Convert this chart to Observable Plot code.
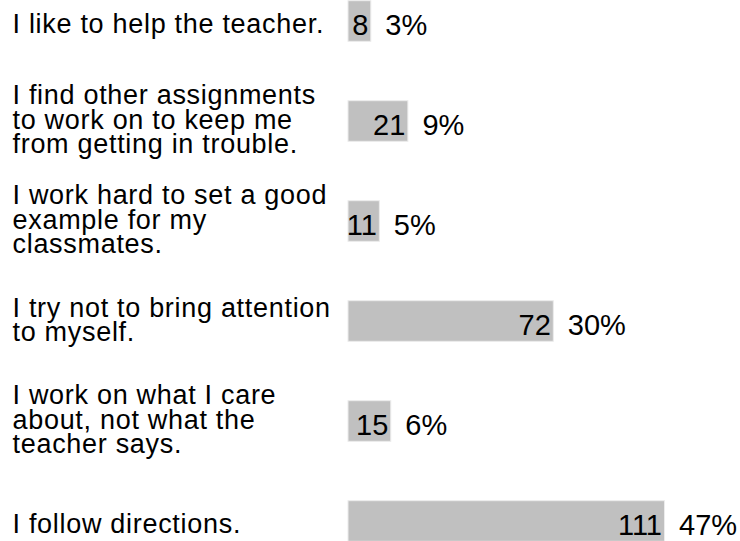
<!DOCTYPE html>
<html><head><meta charset="utf-8">
<script src="https://cdn.jsdelivr.net/npm/d3@7"></script>
<script src="https://cdn.jsdelivr.net/npm/@observablehq/plot@0.6"></script>
<style>body{margin:0;background:#fff} svg g.labels text{letter-spacing:0.7px}</style>
</head><body><div id="chart"></div>
<script>
const statements = [
  "I like to help the teacher.",
  "I find other assignments\nto work on to keep me\nfrom getting in trouble.",
  "I work hard to set a good\nexample for my\nclassmates.",
  "I try not to bring attention\nto myself.",
  "I work on what I care\nabout, not what the\nteacher says.",
  "I follow directions."
];
const counts = [8, 21, 11, 72, 15, 111];
const percents = ["3%", "9%", "5%", "30%", "6%", "47%"];

const data = statements.map((s, i) => ({statement: s, count: counts[i], pct: percents[i]}));
const singleLine = data.filter(d => !d.statement.includes("\n"));
const multiLine = data.filter(d => d.statement.includes("\n"));

const labelOpts = {frameAnchor: "left", y: "statement", text: "statement", textAnchor: "start", dx: 12, lineHeight: 0.907, fill: "#000", fontSize: 27, className: "labels"};

const plot = Plot.plot({
  width: 740,
  height: 541,
  margin: 0,
  style: {fontFamily: "'Liberation Sans', Arial, sans-serif", fontSize: "29px", background: "#fff", color: "#000"},
  x: {domain: [0, 111], range: [348, 664.5], axis: null},
  y: {domain: statements, range: [-30.2, 572.2], padding: 0, axis: null},
  marks: [
    Plot.barX(data, {x: "count", y: "statement", fill: "#c0c0c0", stroke: "#ececec", strokeWidth: 1, insetTop: 29.7, insetBottom: 29.7}),
    Plot.text(data, {x: "count", y: "statement", text: d => String(d.count), textAnchor: "end", dx: -3, dy: 4.5, fill: "#000", fontSize: 29}),
    Plot.text(data, {x: "count", y: "statement", text: "pct", textAnchor: "start", dx: 14, dy: 4.5, fill: "#000", fontSize: 29}),
    Plot.text(singleLine, {...labelOpts, dy: 4}),
    Plot.text(multiLine, {...labelOpts, dy: -0.5})
  ]
});
plot.querySelectorAll("g").forEach(g => {
  if ([...g.classList].some(c => c.endsWith("labels"))) g.classList.add("labels");
});
document.getElementById("chart").appendChild(plot);
</script>
</body></html>
